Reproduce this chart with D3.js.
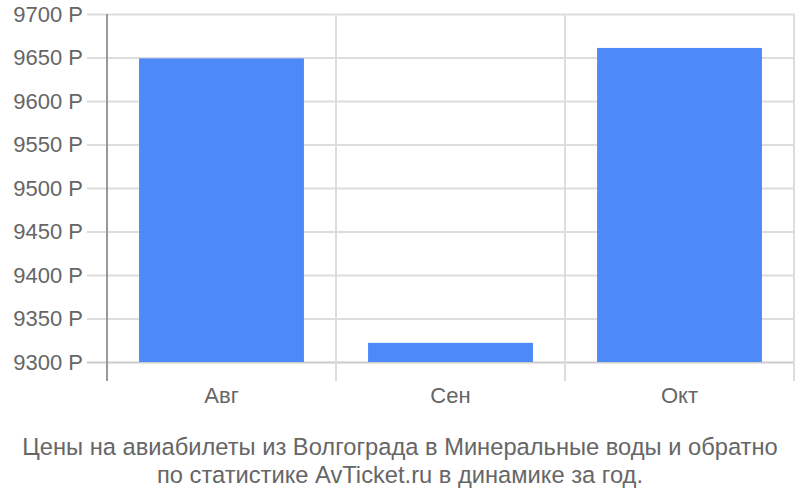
<!DOCTYPE html>
<html>
<head>
<meta charset="utf-8">
<script src="https://cdn.jsdelivr.net/npm/d3@7"></script>
<style>
  body { margin: 0; background: #fff; }
  text { font-family: "Liberation Sans", Arial, sans-serif; }
</style>
</head>
<body>
<div id="chart"></div>
<script>
const months = ['Авг', 'Сен', 'Окт']
const prices = [9649, 9322, 9661]
const yTicks = [9300, 9350, 9400, 9450, 9500, 9550, 9600, 9650, 9700]
const titleLines = [
  'Цены на авиабилеты из Волгограда в Минеральные воды и обратно',
  'по статистике AvTicket.ru в динамике за год.'
]

const width = 800
const height = 500
const margin = { top: 14, right: 6, bottom: 138, left: 107 }
const textColor = '#666666'
const barColor = '#4d89f9'

const svg = d3.select('#chart')
  .append('svg')
  .attr('width', width)
  .attr('height', height)

const x = d3.scaleBand()
  .domain(months)
  .range([margin.left, width - margin.right])
  .paddingInner(0.28)
  .paddingOuter(0.14)

const y = d3.scaleLinear()
  .domain([9300, 9700])
  .range([height - margin.bottom, margin.top])

const plotBottom = y(9300) + 19

// horizontal grid + tick labels
const yAxis = svg.append('g')
  .attr('class', 'y-axis')
  .attr('transform', `translate(${width - margin.right}, 0)`)
  .call(d3.axisLeft(y)
    .tickValues(yTicks)
    .tickSize(width - margin.right - 87)
    .tickPadding(4)
    .tickFormat(d => `${d} Р`))

yAxis.select('.domain').remove()
yAxis.selectAll('.tick line')
  .attr('stroke', d => d === 9300 ? '#cccccc' : '#dddddd')
  .attr('stroke-width', 2)
yAxis.selectAll('.tick text')
  .attr('fill', textColor)
  .attr('font-size', '22px')

// vertical grid lines at band boundaries
const step = x.step()
const boundaries = months.map((m, i) => margin.left + step * (i + 1))
svg.append('g')
  .attr('class', 'v-grid')
  .selectAll('line')
  .data(boundaries)
  .enter()
  .append('line')
  .attr('x1', d => d)
  .attr('x2', d => d)
  .attr('y1', margin.top)
  .attr('y2', plotBottom)
  .attr('stroke', '#dddddd')
  .attr('stroke-width', 2)

// left axis line
svg.append('line')
  .attr('x1', margin.left)
  .attr('x2', margin.left)
  .attr('y1', margin.top)
  .attr('y2', plotBottom)
  .attr('stroke', '#999999')
  .attr('stroke-width', 2)

// bars
svg.append('g')
  .attr('class', 'bars')
  .selectAll('rect')
  .data(months)
  .enter()
  .append('rect')
  .attr('x', d => x(d))
  .attr('width', x.bandwidth())
  .attr('y', (d, i) => y(prices[i]))
  .attr('height', (d, i) => y(9300) - y(prices[i]))
  .attr('fill', barColor)

// x labels
const xAxis = svg.append('g')
  .attr('class', 'x-axis')
  .attr('transform', `translate(0, ${plotBottom})`)
  .call(d3.axisBottom(x).tickSize(0).tickPadding(6))
xAxis.select('.domain').remove()
xAxis.selectAll('.tick text')
  .attr('fill', textColor)
  .attr('font-size', '22px')

// title
svg.append('g')
  .attr('class', 'title')
  .selectAll('text')
  .data(titleLines)
  .enter()
  .append('text')
  .attr('x', width / 2)
  .attr('y', (d, i) => 455 + i * 28)
  .attr('text-anchor', 'middle')
  .attr('fill', textColor)
  .attr('font-size', '23.7px')
  .text(d => d)
</script>
</body>
</html>
